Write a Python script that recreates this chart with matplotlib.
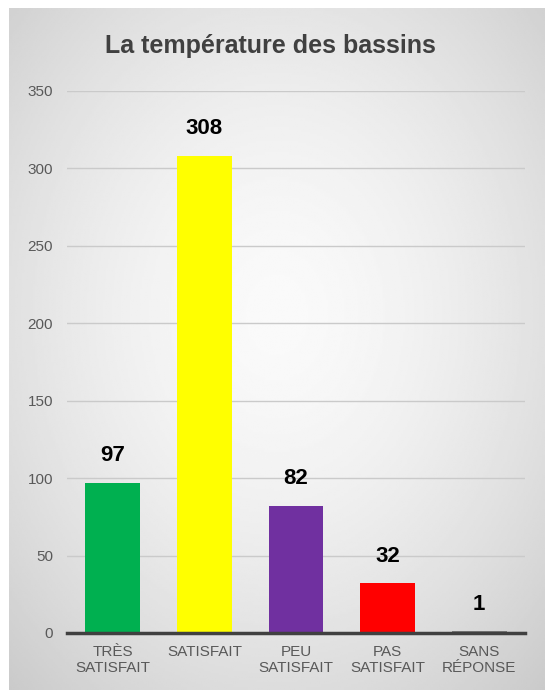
import numpy as np
import matplotlib
matplotlib.use("Agg")
import matplotlib.pyplot as plt

categories = ["TRÈS\nSATISFAIT", "SATISFAIT", "PEU\nSATISFAIT", "PAS\nSATISFAIT", "SANS\nRÉPONSE"]
values = [97, 308, 82, 32, 1]
colors = ["#00B050", "#FFFF00", "#7030A0", "#FF0000", "#7F7F7F"]
yticks = [0, 50, 100, 150, 200, 250, 300, 350]
title = "La température des bassins"

plt.rcParams['font.family'] = ['Liberation Sans', 'DejaVu Sans']

W, H = 545, 690
fig = plt.figure(figsize=(W / 100, H / 100), dpi=100)
fig.patch.set_facecolor("white")

# background panel with radial gradient
px0 = 9 / W
bg = fig.add_axes([px0, 0, 1 - px0, 1 - 8 / H], zorder=0)
bg.set_axis_off()
yy, xx = np.mgrid[0:1:300j, 0:1:300j]
r = np.sqrt(((xx - 0.5) / 0.75) ** 2 + ((yy - 0.55) / 0.75) ** 2)
g = 0.98 - 0.19 * np.clip(r, 0, 1) ** 1.6
bg.imshow(g, cmap="gray", vmin=0, vmax=1, aspect="auto", extent=[0, 1, 0, 1], origin="lower")

ax = fig.add_axes([67 / W, 57 / H, 458 / W, 542 / H], zorder=1)
ax.patch.set_alpha(0)
x = np.arange(len(categories))
bars = ax.bar(x, values, width=0.6, color=colors, zorder=2)
ax.set_xlim(-0.5, len(categories) - 0.5)
ax.set_ylim(0, 350)
ax.set_yticks(yticks)
ax.set_yticklabels([str(v) for v in yticks], fontsize=11, color="#595959")
ax.set_xticks(x)
ax.set_xticklabels(categories, fontsize=11, color="#595959", linespacing=1.15)
ax.tick_params(axis="both", length=0)
ax.tick_params(axis="y", pad=10)
ax.tick_params(axis="x", pad=9)
for s in ["top", "right", "left"]:
    ax.spines[s].set_visible(False)
ax.spines["bottom"].set_color("#404040")
ax.spines["bottom"].set_linewidth(2.5)
ax.spines["bottom"].set_zorder(3)
ax.yaxis.grid(True, color="#cacaca", linewidth=1.0, zorder=1)
ax.set_axisbelow(True)

for b, v in zip(bars, values):
    ax.annotate(str(v), (b.get_x() + b.get_width() / 2, v), xytext=(0, 12),
                textcoords="offset points", ha="center", va="bottom",
                fontsize=16, fontweight="bold", color="black", zorder=4)

fig.text(270 / W, 1 - 46 / H, title, ha="center", va="center",
         fontsize=18, fontweight="bold", color="#404040")

fig.savefig("out.png", dpi=100)
